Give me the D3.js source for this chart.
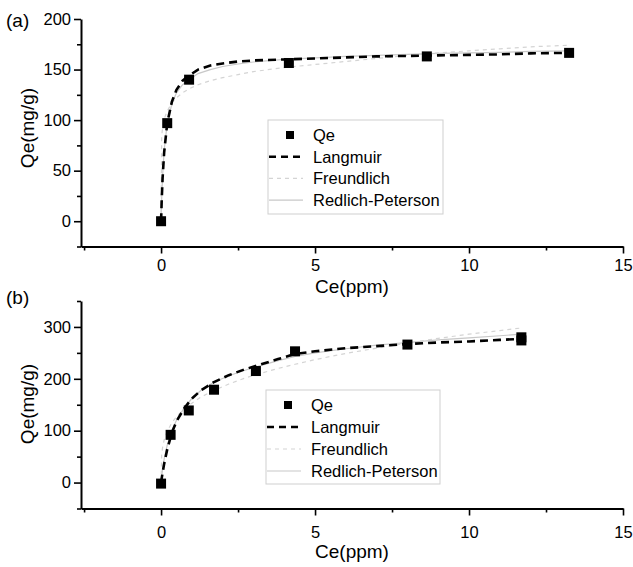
<!DOCTYPE html>
<html>
<head>
<meta charset="utf-8">
<script src="https://cdn.jsdelivr.net/npm/d3@7"></script>
<style>
  html, body { margin: 0; padding: 0; background: #fff; }
  svg { display: block; }
  text { font-family: "Liberation Sans", Arial, sans-serif; fill: #000; }
</style>
</head>
<body>
<script>
// Adsorption isotherms: experimental Qe and three fitted models, two panels.

// ---- panel (a) ----
const ceA = [0, 0.2, 0.91, 4.15, 8.63, 13.25];
const qeA = [0, 97, 140, 156.5, 163, 166.5];
const fitXA = [0, 0.02, 0.05, 0.1, 0.2, 0.35, 0.5, 0.7, 0.91, 1.2, 1.6, 2.0, 2.5, 3, 4, 5, 6, 7, 8, 9, 10, 11, 12, 13.2];
const langmuirA = [0, 20, 43, 68, 97, 118, 130, 139, 144, 150, 154, 156, 158, 159, 160, 161, 162, 163, 163.5, 164, 164.5, 165, 166, 166.5];
const freundlichA = [0, 84, 93, 101, 109, 117, 122, 127, 131, 135, 139, 142, 145, 148, 152, 155, 158, 161, 164, 166.5, 168.5, 170.5, 172.5, 174];
const redlichA = [0, 22, 45, 70, 97, 116, 127, 135, 140, 146, 150, 153, 155.5, 157.5, 160, 161.5, 163, 164, 165, 166, 166.5, 167, 168, 168.5];

// ---- panel (b) ----
const ceB = [0, 0.31, 0.9, 1.72, 3.08, 4.35, 8.0, 11.7, 11.7];
const qeB = [-2, 92, 139, 179, 215, 253, 266, 274, 280];
const fitXB = [0, 0.02, 0.05, 0.1, 0.2, 0.35, 0.5, 0.75, 1, 1.3, 1.7, 2.2, 2.7, 3.2, 3.8, 4.35, 5, 6, 7, 8, 9, 10, 11, 11.7];
const langmuirB = [0, 8, 19, 36, 64, 96, 118, 143, 162, 178, 193, 207, 218, 227, 238, 248, 253, 259, 263, 267, 270, 272, 275, 277];
const freundlichB = [0, 53, 68, 82, 99, 115, 127, 142, 153, 165, 177, 190, 201, 210, 220, 228, 237, 249, 259, 269, 278, 286, 293, 298];
const redlichB = [0, 12, 26, 45, 72, 100, 120, 144, 162, 178, 193, 206, 216, 225, 235, 243, 250, 258, 265, 270, 275, 279, 283, 286];

// axes ticks
const xMajor = [0, 5, 10, 15];
const xMinor = [-2.5, 2.5, 7.5, 12.5];
const yMajorA = [0, 50, 100, 150, 200];
const yMinorA = [-25, 25, 75, 125, 175];
const yMajorB = [0, 100, 200, 300];
const yMinorB = [-50, 50, 150, 250, 350];

const legendNames = ["Qe", "Langmuir", "Freundlich", "Redlich-Peterson"];

const W = 633, H = 567;
const svg = d3.select("body").append("svg").attr("width", W).attr("height", H);

const styles = {
  langmuir: { color: "#000", width: 2.6, dash: "8,5" },
  freundlich: { color: "#d4d4d4", width: 1.2, dash: "4,4" },
  redlich: { color: "#c8c8c8", width: 1.2 }
};

function drawPanel(cfg) {
  const x = d3.scaleLinear().domain([-2.6, 15]).range([81, 623]);
  const y = d3.scaleLinear().domain(cfg.yDomain).range(cfg.yRange);
  const g = svg.append("g");

  // fitted curves
  const line = d3.line().x(d => x(d[0])).y(d => y(d[1]));
  const curve = (vals, style) => {
    g.append("path")
      .datum(cfg.fitX.map((v, i) => [v, vals[i]]))
      .attr("d", line)
      .attr("fill", "none")
      .attr("stroke", style.color)
      .attr("stroke-width", style.width)
      .attr("stroke-dasharray", style.dash || null);
  };
  curve(cfg.redlich, styles.redlich);
  curve(cfg.freundlich, styles.freundlich);
  curve(cfg.langmuir, styles.langmuir);

  // experimental points
  const s = 10;
  g.selectAll("rect.pt").data(cfg.ce.map((v, i) => [v, cfg.qe[i]])).enter()
    .append("rect").attr("class", "pt")
    .attr("x", d => x(d[0]) - s / 2).attr("y", d => y(d[1]) - s / 2)
    .attr("width", s).attr("height", s).attr("fill", "#000");

  // x axis
  const xAxis = d3.axisBottom(x).tickValues(xMajor).tickSize(7).tickSizeOuter(0).tickFormat(d3.format("d"));
  const gx = g.append("g").attr("transform", `translate(0,${cfg.yRange[0]})`).call(xAxis);
  g.append("g").attr("transform", `translate(0,${cfg.yRange[0]})`)
    .call(d3.axisBottom(x).tickValues(xMinor).tickSize(4).tickSizeOuter(0).tickFormat(""))
    .select(".domain").remove();
  gx.select(".domain").attr("stroke-width", 2);
  gx.selectAll(".tick text").attr("font-size", 16.5).attr("font-family", "Liberation Sans, Arial, sans-serif")
    .attr("y", cfg.xLabelDy).attr("dy", 0);

  // y axis
  const yAxis = d3.axisLeft(y).tickValues(cfg.yMajor).tickSize(7).tickSizeOuter(0).tickFormat(d3.format("d"));
  const gy = g.append("g").attr("transform", "translate(81,0)").call(yAxis);
  g.append("g").attr("transform", "translate(81,0)")
    .call(d3.axisLeft(y).tickValues(cfg.yMinor).tickSize(4).tickSizeOuter(0).tickFormat(""))
    .select(".domain").remove();
  gy.select(".domain").attr("stroke-width", 2);
  gy.selectAll(".tick text").attr("font-size", 16.5).attr("font-family", "Liberation Sans, Arial, sans-serif")
    .attr("x", -10);
  g.selectAll(".tick line").attr("stroke-width", 1.6);

  // titles
  g.append("text").attr("x", 352).attr("y", cfg.xTitleY).attr("text-anchor", "middle")
    .attr("font-size", 19).text("Ce(ppm)");
  g.append("text").attr("transform", `translate(34,${cfg.yTitleY}) rotate(-90)`)
    .attr("text-anchor", "middle").attr("font-size", 19).text("Qe(mg/g)");
  g.append("text").attr("x", 6).attr("y", cfg.tagY).attr("font-size", 19).text(cfg.tag);

  // legend
  const L = cfg.legend;
  g.append("rect").attr("x", L.x).attr("y", L.y).attr("width", L.w).attr("height", L.h)
    .attr("fill", "#fff").attr("stroke", "#cfcfcf").attr("stroke-width", 1);
  const rowY = i => L.y + L.first + i * L.step;
  const keys = [null, "langmuir", "freundlich", "redlich"];
  legendNames.forEach((name, i) => {
    const cy = rowY(i);
    if (i === 0) {
      g.append("rect").attr("x", L.x + 22 - 4).attr("y", cy - 4).attr("width", 8).attr("height", 8).attr("fill", "#000");
    } else {
      const st = styles[keys[i]];
      g.append("line").attr("x1", L.x + 1).attr("x2", L.x + 35).attr("y1", cy).attr("y2", cy)
        .attr("stroke", st.color).attr("stroke-width", st.width)
        .attr("stroke-dasharray", i === 1 ? "7,5" : (st.dash || null));
    }
    g.append("text").attr("x", L.x + 45).attr("y", cy + 6).attr("font-size", 16.5).text(name);
  });
}

drawPanel({
  ce: ceA, qe: qeA, fitX: fitXA, langmuir: langmuirA, freundlich: freundlichA, redlich: redlichA,
  yDomain: [-25, 200], yRange: [246.5, 19], yMajor: yMajorA, yMinor: yMinorA,
  xLabelDy: 24, xTitleY: 293, yTitleY: 128, tag: "(a)", tagY: 27,
  legend: { x: 268, y: 120, w: 175, h: 94, first: 15, step: 21.7 }
});
drawPanel({
  ce: ceB, qe: qeB, fitX: fitXB, langmuir: langmuirB, freundlich: freundlichB, redlich: redlichB,
  yDomain: [-50, 350], yRange: [508.5, 301], yMajor: yMajorB, yMinor: yMinorB,
  xLabelDy: 29, xTitleY: 558, yTitleY: 404, tag: "(b)", tagY: 304,
  legend: { x: 266, y: 390, w: 174, h: 94, first: 15, step: 22 }
});
</script>
</body>
</html>
